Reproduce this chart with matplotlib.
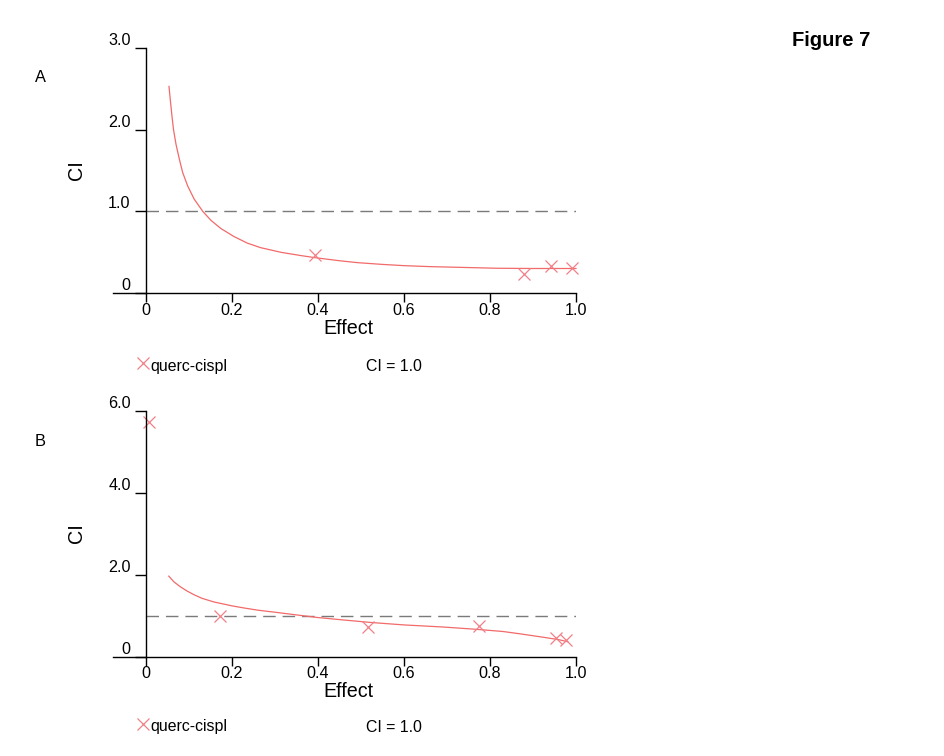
import matplotlib
matplotlib.use("Agg")
import matplotlib.pyplot as plt

plt.rcParams['font.family'] = ['Liberation Sans', 'DejaVu Sans']

# ---- Panel A data ----
a_pts_x = [0.394, 0.880, 0.943, 0.991]
a_pts_y = [0.465, 0.235, 0.335, 0.305]
a_curve_x = [0.0535, 0.0566, 0.0605, 0.064, 0.0698, 0.0775, 0.0853, 0.097,
             0.112, 0.132, 0.151, 0.174, 0.205, 0.236, 0.266, 0.315, 0.362,
             0.394, 0.450, 0.491, 0.550, 0.600, 0.660, 0.723, 0.816, 0.900, 1.000]
a_curve_y = [2.53, 2.36, 2.16, 2.00, 1.82, 1.64, 1.475, 1.31,
             1.15, 1.00, 0.89, 0.79, 0.69, 0.61, 0.556, 0.497, 0.457,
             0.432, 0.395, 0.372, 0.350, 0.335, 0.323, 0.315, 0.303, 0.300, 0.300]
a_yticks = [0, 1.0, 2.0, 3.0]
a_yticklabels = ["0", "1.0", "2.0", "3.0"]

# ---- Panel B data ----
b_pts_x = [0.006, 0.171, 0.517, 0.774, 0.954, 0.977]
b_pts_y = [5.71, 0.985, 0.73, 0.74, 0.445, 0.40]
b_curve_x = [0.053, 0.065, 0.080, 0.095, 0.111, 0.130, 0.158, 0.200, 0.230,
             0.260, 0.300, 0.338, 0.400, 0.460, 0.523, 0.600, 0.690, 0.772,
             0.830, 0.872, 0.930, 0.960, 0.981]
b_curve_y = [1.96, 1.82, 1.70, 1.60, 1.51, 1.42, 1.33, 1.235, 1.18,
             1.13, 1.08, 1.03, 0.95, 0.89, 0.83, 0.77, 0.72, 0.66,
             0.61, 0.55, 0.46, 0.41, 0.36]
b_yticks = [0, 2.0, 4.0, 6.0]
b_yticklabels = ["0", "2.0", "4.0", "6.0"]

xticks = [0, 0.2, 0.4, 0.6, 0.8, 1.0]
xticklabels = ["0", "0.2", "0.4", "0.6", "0.8", "1.0"]
ci_ref = 1.0
series_name = "querc-cispl"
ref_name = "CI = 1.0"

W, H = 945, 756
fig = plt.figure(figsize=(W / 100, H / 100), dpi=100)

line_col = '#f26a6a'
mark_col = '#f07f88'
dash_col = '#7a7a7a'
XMIN = -0.077


def make_panel(top_px, bottom_px, ymax, yticks, yticklabels,
               px, py, cx, cy, letter, letter_y, leg_y):
    left_px = 146 + XMIN * 430
    right_px = 576
    ax = fig.add_axes([left_px / W, 1 - bottom_px / H,
                       (right_px - left_px) / W, (bottom_px - top_px) / H])
    ax.set_xlim(XMIN, 1.0)
    ax.set_ylim(0, ymax)
    for s in ['top', 'right']:
        ax.spines[s].set_visible(False)
    ax.spines['left'].set_position(('data', 0))
    ax.spines['left'].set_bounds(0, ymax)
    ax.spines['bottom'].set_bounds(XMIN, 1.0)
    ax.spines['left'].set_linewidth(1.0)
    ax.spines['bottom'].set_linewidth(1.0)

    ax.axhline(ci_ref, xmin=(0 - XMIN) / (1 - XMIN), xmax=1.0, color=dash_col,
               lw=1.0, linestyle=(0, (9, 5)))
    ax.plot(cx, cy, color=line_col, lw=0.9, clip_on=False)
    ax.plot(px, py, linestyle='none', marker='x', ms=9, mew=0.9,
            color=mark_col, clip_on=False)

    ax.set_xticks(xticks)
    ax.set_xticklabels(xticklabels)
    ax.set_yticks(yticks)
    ax.set_yticklabels(yticklabels)
    ax.tick_params(axis='x', direction='out', length=6.5, width=1.0, pad=0.5,
                   labelsize=11.6)
    ax.tick_params(axis='y', direction='out', length=8, width=1.0, pad=3,
                   labelsize=11.6)
    for lab in ax.get_yticklabels():
        lab.set_verticalalignment('bottom')

    ax.set_xlabel("Effect", fontsize=14.2)
    ax.xaxis.set_label_coords((348 - left_px) / (right_px - left_px), -0.105)
    ax.set_ylabel("CI", fontsize=14.2)
    ax.yaxis.set_label_coords((86 - left_px) / (right_px - left_px), 0.5)

    fig.text(40.5 / W, 1 - letter_y / H, letter, fontsize=11.8,
             ha='center', va='center')

    ax.plot([143 / W], [1 - leg_y / H], transform=fig.transFigure,
            marker='x', ms=9, mew=0.9, color=mark_col, clip_on=False,
            linestyle='none')
    fig.text(150.5 / W, 1 - (leg_y + 3) / H, series_name, fontsize=11.4,
             ha='left', va='center')
    fig.text(366.5 / W, 1 - (leg_y + 3) / H, ref_name, fontsize=11.4,
             ha='left', va='center')
    return ax


make_panel(48, 293, 3.0, a_yticks, a_yticklabels,
           a_pts_x, a_pts_y, a_curve_x, a_curve_y, "A", 78, 363)
make_panel(410.5, 656.5, 6.0, b_yticks, b_yticklabels,
           b_pts_x, b_pts_y, b_curve_x, b_curve_y, "B", 441, 724)

fig.text(831 / W, 1 - 40 / H, "Figure 7", fontsize=14.5, fontweight='bold',
         ha='center', va='center')

fig.savefig("out.png", dpi=100)
